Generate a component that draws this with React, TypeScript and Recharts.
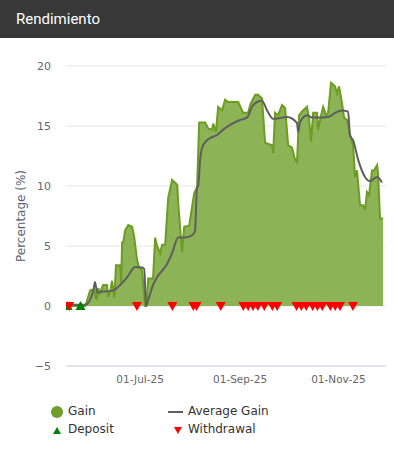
import { ComposedChart, Area, Line, Scatter, XAxis, YAxis, CartesianGrid } from 'recharts'

// day offsets are counted from 01-Jul-25
const gainPoints: [number, number][] = [
  [-45, 0], [-34, 0], [-31, 1.3], [-28.5, 1.4], [-27, 0.5], [-26, 1.5], [-25, 1.1], [-23, 1.75],
  [-20.5, 1.75], [-20, 0.75], [-18.6, 1.2], [-17.4, 2.1], [-16, 0.7], [-15, 3.4], [-12.4, 3.4],
  [-11.8, 2.0], [-11.2, 5.3], [-10.5, 5.3], [-9.3, 6.3], [-7.4, 6.75], [-5, 6.6], [-3.7, 5.75],
  [-1.9, 3.8], [-0.6, 3.2], [1.2, 3.0], [3.1, 0], [3.7, 0], [5, 2.3], [8, 2.3], [9.3, 5.7],
  [10.5, 5.0], [12.4, 4.4], [13.6, 5.1], [15.5, 5.1], [17.4, 9.0], [19.8, 10.5], [23, 10.1],
  [23.6, 8.6], [26, 4.5], [27.3, 6.6], [30.4, 6.7], [32.2, 8.25], [33.5, 9.4], [35.3, 9.9],
  [36.6, 15.3], [40.3, 15.3], [42.2, 14.8], [44.6, 14.7], [45.3, 15.2], [47, 14.5], [48.4, 16.6],
  [50.8, 16.3], [52.7, 17.2], [54.6, 17.0], [60.8, 17.0], [63.9, 16.1], [67, 16.1], [68.2, 16.75],
  [71.3, 17.6], [73.2, 17.6], [75.6, 17.3], [77.5, 13.6], [81.8, 13.4], [82.5, 12.75], [83.7, 16.1],
  [85.6, 15.9], [88, 16.75], [89.9, 16.5], [91.8, 13.4], [94.2, 13.2], [96.1, 12.2], [97.3, 12.0],
  [98.6, 15.9], [101, 16.3], [103.5, 16.6], [104.8, 15.6], [106, 13.7], [107.3, 16.1], [109.7, 16.1],
  [110.4, 14.7], [111.6, 15.5], [113.5, 16.6], [115.3, 15.9], [116.6, 16.1], [118.4, 18.6],
  [120.9, 18.3], [122.1, 17.7], [123.4, 18.3], [125.2, 16.9], [126.5, 15.7], [128.3, 15.5],
  [130.2, 14.25], [132.1, 13.4], [133.3, 10.75], [134.5, 11.3], [136.4, 8.4], [138.3, 8.4],
  [139.5, 8.0], [140.7, 9.5], [142, 9.25], [143.8, 11.3], [145, 11.3], [147, 11.75], [147.6, 11.0],
  [148.8, 7.3], [150.7, 7.3],
]

const avgPoints: [number, number][] = [
  [-44.6, 0.1], [-37.2, 0.1], [-34, 0.1], [-29, 1.3], [-28, 2.0], [-26.7, 1.1], [-23, 1.2],
  [-16.7, 1.3], [-12.4, 1.75], [-8, 2.4], [-3.1, 3.25], [1.2, 3.2], [2.5, 3.1], [3.7, 0],
  [5, 0.5], [8, 1.75], [10.5, 2.4], [16.7, 3.5], [19.8, 4.4], [23.6, 5.7], [26.7, 5.7], [31, 5.8],
  [34, 6.2], [35.3, 9.9], [36, 10], [37.2, 12.2], [39, 13.4], [43.4, 14.0], [47.7, 14.25],
  [51.5, 14.7], [55.8, 15.1], [62, 15.5], [66.3, 15.7], [69.4, 16.6], [72.5, 17.0], [75.6, 17.1],
  [78.7, 16.3], [82.5, 15.6], [91.1, 15.75], [97.3, 15.25], [98, 14.5], [99.2, 15.3], [103.5, 15.9],
  [106.6, 15.7], [111.6, 15.7], [116.6, 15.75], [120.9, 16.1], [125.2, 16.3], [129, 16.2],
  [130.2, 14.2], [132.1, 13.8], [135.2, 12.2], [139.5, 10.75], [142.6, 10.4], [147, 10.75], [150, 10.3],
]

const depositDays = [-45, -37]
const withdrawalDays = [-44, -2, 20, 33, 35, 50, 64, 67, 70, 73, 77, 82, 85, 97, 100, 103, 107, 110, 113, 118, 121, 124, 132]

const xTicks = [0, 62, 123]
const xTickLabels = ['01-Jul-25', '01-Sep-25', '01-Nov-25']
const yTicks = [-5, 0, 5, 10, 15, 20]

const gainData = gainPoints.map(([d, v]) => ({ d, v }))
const avgData = avgPoints.map(([d, v]) => ({ d, v }))
const depositData = depositDays.map((d) => ({ d, v: 0 }))
const withdrawalData = withdrawalDays.map((d) => ({ d, v: 0 }))

const GAIN_FILL = '#8db357'
const GAIN_STROKE = '#6c9c22'
const AVG = '#5e5e5e'
const FONT = '"DejaVu Sans", Verdana, sans-serif'

const UpTriangle = (props: any) => {
  const { cx, cy } = props
  return <path d={`M${cx},${cy - 5} L${cx + 5},${cy + 4} L${cx - 5},${cy + 4} Z`} fill="#008000" />
}

const DownTriangle = (props: any) => {
  const { cx, cy } = props
  return <path d={`M${cx - 5},${cy - 4} L${cx + 5},${cy - 4} L${cx},${cy + 5} Z`} fill="#ff0000" />
}

export default function App() {
  return (
    <div style={{ width: 394, height: 451, background: '#fff', position: 'relative', fontFamily: FONT }}>
      <style>{'body{margin:0}'}</style>
      <div
        style={{
          height: 38,
          background: '#383838',
          color: '#fff',
          fontFamily: 'Roboto, sans-serif',
          fontSize: 15,
          fontWeight: 400,
          lineHeight: '38px',
          paddingLeft: 16,
        }}
      >
        Rendimiento
      </div>

      <ComposedChart width={394} height={413} margin={{ top: 28, right: 8, bottom: 65, left: 0 }}>
        <CartesianGrid vertical={false} stroke="#e6e6e6" />
        <XAxis
          dataKey="d"
          type="number"
          domain={[-46, 152.5]}
          ticks={xTicks}
          tickFormatter={(v: number) => xTickLabels[xTicks.indexOf(v)] ?? ''}
          axisLine={{ stroke: '#ccd6eb' }}
          tickLine={false}
          tickMargin={4}
          height={20}
          tick={{ fill: '#666', fontSize: 10.5, fontFamily: FONT }}
          allowDataOverflow
        />
        <YAxis
          dataKey="v"
          type="number"
          domain={[-5, 20]}
          ticks={yTicks}
          tickFormatter={(v: number) => (v < 0 ? `\u2212${Math.abs(v)}` : `${v}`)}
          axisLine={false}
          tickLine={false}
          tickMargin={9}
          width={66}
          tick={{ fill: '#666', fontSize: 11, fontFamily: FONT }}
          label={{
            value: 'Percentage (%)',
            angle: -90,
            position: 'center',
            dx: -12,
            fill: '#5a6470',
            fontSize: 12,
            fontFamily: FONT,
          }}
        />
        <Area
          data={gainData}
          dataKey="v"
          type="linear"
          baseValue={0}
          fill={GAIN_FILL}
          fillOpacity={1}
          stroke={GAIN_STROKE}
          strokeWidth={2}
          isAnimationActive={false}
        />
        <Line
          data={avgData}
          dataKey="v"
          type="monotone"
          stroke={AVG}
          strokeWidth={2}
          dot={false}
          isAnimationActive={false}
        />
        <Scatter data={depositData} dataKey="v" shape={UpTriangle} isAnimationActive={false} />
        <Scatter data={withdrawalData} dataKey="v" shape={DownTriangle} isAnimationActive={false} />
      </ComposedChart>

      <div style={{ position: 'absolute', top: 403, left: 0, width: 394, fontSize: 12, color: '#333' }}>
        <div style={{ position: 'absolute', left: 51, top: 3, width: 12, height: 12, borderRadius: 6, background: '#6f9e2a' }} />
        <div style={{ position: 'absolute', left: 68, top: 1 }}>Gain</div>
        <div style={{ position: 'absolute', left: 168, top: 8, width: 15, height: 2, background: AVG }} />
        <div style={{ position: 'absolute', left: 188, top: 1 }}>Average Gain</div>
        <svg style={{ position: 'absolute', left: 52, top: 23 }} width={10} height={10}>
          <path d="M5,1 L9,8 L1,8 Z" fill="#008000" />
        </svg>
        <div style={{ position: 'absolute', left: 68, top: 19 }}>Deposit</div>
        <svg style={{ position: 'absolute', left: 173, top: 23 }} width={10} height={10}>
          <path d="M1,1 L9,1 L5,8 Z" fill="#ff0000" />
        </svg>
        <div style={{ position: 'absolute', left: 188, top: 19 }}>Withdrawal</div>
      </div>
    </div>
  )
}
